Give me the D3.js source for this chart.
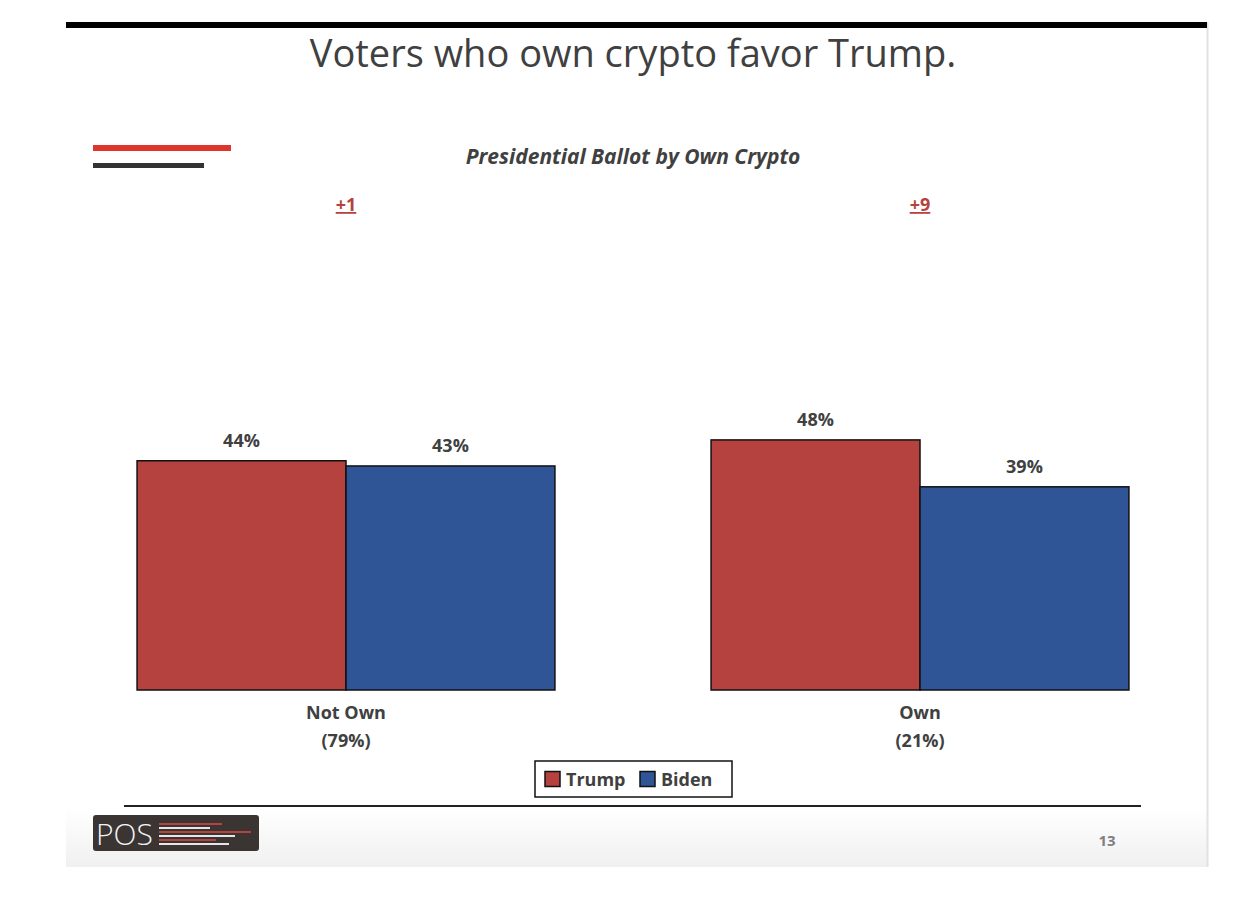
<!DOCTYPE html>
<html lang="en">

<head>
    <meta charset="UTF-8" />
    <title>Presidential Ballot by Own Crypto</title>
    <script src="https://d3js.org/d3.v7.min.js"></script>
    <style>
        body {
            margin: 0;
            background: #fff;
        }

        text {
            font-family: "Open Sans", "DejaVu Sans", sans-serif;
        }
    </style>
</head>

<body>
    <svg id="chart" width="1254" height="898"></svg>
    <script>
        const categories = ["Not Own", "Own"];
        const shares = ["(79%)", "(21%)"];
        const margins = ["+1", "+9"];
        const series = ["Trump", "Biden"];
        const trumpValues = [44, 48];
        const bidenValues = [43, 39];
        const colors = { Trump: "#b5423f", Biden: "#2f5597" };

        const data = categories.map((c, i) => ({
            category: c,
            share: shares[i],
            margin: margins[i],
            values: [
                { name: "Trump", value: trumpValues[i] },
                { name: "Biden", value: bidenValues[i] },
            ],
        }));

        const svg = d3.select("svg#chart");

        // slide background with the grey fade at the bottom
        const defs = svg.append("defs");
        const grad = defs.append("linearGradient")
            .attr("id", "fade")
            .attr("x1", 0).attr("y1", 0).attr("x2", 0).attr("y2", 1);
        grad.append("stop").attr("offset", "0.93").attr("stop-color", "#ffffff");
        grad.append("stop").attr("offset", "1").attr("stop-color", "#f0f0f0");

        svg.append("rect")
            .attr("x", 66).attr("y", 22)
            .attr("width", 1141).attr("height", 845)
            .attr("fill", "url(#fade)");
        svg.append("line")
            .attr("x1", 1207.5).attr("x2", 1207.5)
            .attr("y1", 22).attr("y2", 867)
            .attr("stroke", "#e2e2e2").attr("stroke-width", 2);

        // top black rule
        svg.append("rect")
            .attr("x", 66).attr("y", 22)
            .attr("width", 1141).attr("height", 6)
            .attr("fill", "#000");

        svg.append("text")
            .attr("x", 633).attr("y", 67)
            .attr("text-anchor", "middle")
            .attr("font-size", 38)
            .attr("fill", "#404040")
            .text("Voters who own crypto favor Trump.");

        // decorative lines top left
        svg.append("rect").attr("x", 93).attr("y", 145).attr("width", 138).attr("height", 6).attr("fill", "#e0352c");
        svg.append("rect").attr("x", 93).attr("y", 163).attr("width", 111).attr("height", 5).attr("fill", "#333");

        svg.append("text")
            .attr("x", 633).attr("y", 164)
            .attr("text-anchor", "middle")
            .attr("font-size", 21)
            .attr("font-weight", "bold")
            .attr("font-style", "italic")
            .attr("fill", "#404040")
            .text("Presidential Ballot by Own Crypto");

        const xScale = d3.scaleBand()
            .domain(categories)
            .range([59, 1207])
            .paddingInner(0.272)
            .paddingOuter(0.136);

        const xInner = d3.scaleBand()
            .domain(series)
            .range([0, xScale.bandwidth()]);

        const yScale = d3.scaleLinear()
            .domain([0, 100])
            .range([690, 169]);

        const groups = svg.selectAll("g.group")
            .data(data)
            .join("g")
            .attr("class", "group")
            .attr("transform", (d) => `translate(${xScale(d.category)},0)`);

        groups.selectAll("rect.bar")
            .data((d) => d.values)
            .join("rect")
            .attr("class", "bar")
            .attr("x", (d) => xInner(d.name))
            .attr("y", (d) => yScale(d.value))
            .attr("width", xInner.bandwidth())
            .attr("height", (d) => yScale(0) - yScale(d.value))
            .attr("fill", (d) => colors[d.name])
            .attr("stroke", "#111")
            .attr("stroke-width", 1.5);

        groups.selectAll("text.value")
            .data((d) => d.values)
            .join("text")
            .attr("class", "value")
            .attr("x", (d) => xInner(d.name) + xInner.bandwidth() / 2)
            .attr("y", (d) => yScale(d.value) - 14)
            .attr("text-anchor", "middle")
            .attr("font-size", 18)
            .attr("font-weight", "bold")
            .attr("fill", "#404040")
            .text((d) => d.value + "%");

        // margin labels
        groups.append("text")
            .attr("x", xScale.bandwidth() / 2)
            .attr("y", 211)
            .attr("text-anchor", "middle")
            .attr("font-size", 18)
            .attr("font-weight", "bold")
            .attr("fill", "#b5423f")
            .attr("text-decoration", "underline")
            .text((d) => d.margin);

        groups.append("text")
            .attr("x", xScale.bandwidth() / 2)
            .attr("y", 719)
            .attr("text-anchor", "middle")
            .attr("font-size", 18)
            .attr("font-weight", "bold")
            .attr("fill", "#404040")
            .text((d) => d.category);

        groups.append("text")
            .attr("x", xScale.bandwidth() / 2)
            .attr("y", 747)
            .attr("text-anchor", "middle")
            .attr("font-size", 18)
            .attr("font-weight", "bold")
            .attr("fill", "#404040")
            .text((d) => d.share);

        // legend
        const legend = svg.append("g").attr("transform", "translate(535,761)");
        legend.append("rect")
            .attr("width", 197).attr("height", 36)
            .attr("fill", "#fff")
            .attr("stroke", "#111").attr("stroke-width", 1.5);
        const legendX = [10, 105];
        const item = legend.selectAll("g.item")
            .data(series)
            .join("g")
            .attr("class", "item")
            .attr("transform", (d, i) => `translate(${legendX[i]},0)`);
        item.append("rect")
            .attr("x", 0).attr("y", 10.5)
            .attr("width", 15).attr("height", 15)
            .attr("fill", (d) => colors[d])
            .attr("stroke", "#111").attr("stroke-width", 1.5);
        item.append("text")
            .attr("x", 21).attr("y", 24.5)
            .attr("font-size", 18)
            .attr("font-weight", "bold")
            .attr("fill", "#404040")
            .text((d) => d);

        // footer
        svg.append("line")
            .attr("x1", 124).attr("x2", 1141)
            .attr("y1", 806).attr("y2", 806)
            .attr("stroke", "#222").attr("stroke-width", 2);

        const logo = svg.append("g").attr("transform", "translate(93,815)");
        logo.append("rect")
            .attr("width", 166).attr("height", 36)
            .attr("rx", 3)
            .attr("fill", "#3a3532");
        logo.append("text")
            .attr("x", 3).attr("y", 30)
            .attr("font-size", 30)
            .attr("font-weight", 300)
            .attr("fill", "#f2f2f2")
            .text("POS");
        const logoLines = [
            { y: 8, w: 63, c: "#b5423f" },
            { y: 12, w: 51, c: "#e6e6e6" },
            { y: 16, w: 92, c: "#b5423f" },
            { y: 20, w: 76, c: "#e6e6e6" },
            { y: 24, w: 57, c: "#b5423f" },
            { y: 28, w: 70, c: "#e6e6e6" },
        ];
        logo.selectAll("rect.ln")
            .data(logoLines)
            .join("rect")
            .attr("class", "ln")
            .attr("x", 66).attr("y", (d) => d.y)
            .attr("width", (d) => d.w).attr("height", 2)
            .attr("fill", (d) => d.c);

        svg.append("text")
            .attr("x", 1107).attr("y", 846)
            .attr("text-anchor", "middle")
            .attr("font-size", 15)
            .attr("font-weight", "bold")
            .attr("fill", "#808080")
            .text("13");
    </script>
</body>

</html>
